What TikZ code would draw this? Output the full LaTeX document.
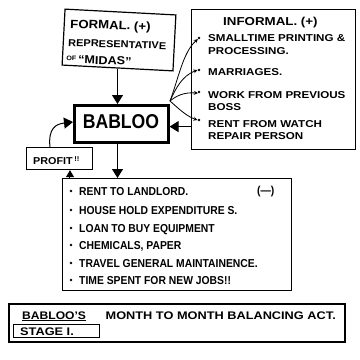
\documentclass[tikz,border=0pt]{standalone}
\usepackage{fontspec}
\setmainfont{Liberation Sans}
% marker-style lettering at a few widths
\newfontfamily\hwInf{Liberation Sans}[FakeStretch=1.16]
\newfontfamily\hwForm{Liberation Sans}[FakeStretch=1.1]
\newfontfamily\hwExp{Liberation Sans}[FakeStretch=0.9]
\newfontfamily\hwCap{Liberation Sans}[FakeStretch=1.16]
\newfontfamily\hwName{Liberation Sans}[FakeStretch=0.88]
\newfontfamily\hwProf{Liberation Sans}[FakeStretch=1.08]
\usetikzlibrary{arrows.meta}
\begin{document}
\begin{tikzpicture}[x=1pt,y=-1pt,
  box/.style={draw,line width=1.2pt,inner sep=0pt,anchor=north west},
  txt/.style={anchor=base west,inner sep=0pt},
  formaltxt/.style={txt,font=\hwForm\fontsize{10}{10}\selectfont\bfseries},
  small/.style={txt,font=\hwInf\fontsize{10}{10}\selectfont\bfseries},
  big/.style={txt,font=\hwExp\fontsize{11.5}{12}\selectfont\bfseries},
  captxt/.style={txt,font=\hwCap\fontsize{11}{11}\selectfont\bfseries},
  flow/.style={line width=1pt,-{Triangle[length=9pt,width=11pt]}},
  thin/.style={line width=0.8pt,-{Stealth[length=4pt,width=4pt]}},
  dot/.style={circle,fill,inner sep=0pt,minimum size=2.8pt}]
\useasboundingbox (0,0) rectangle (360,360);

% formal income
\node[box,rotate=-3,minimum width=111pt,minimum height=56pt,anchor=center] (formal) at (119,40) {};
\node[formaltxt,rotate=-2,font=\hwForm\fontsize{12}{12}\selectfont\bfseries] (f1) at (70,28) {FORMAL. (+)};
\node[formaltxt,rotate=-2] (f2) at (68,46) {REPRESENTATIVE};
\node[formaltxt,rotate=-2,font=\hwForm\fontsize{11.5}{12}\selectfont\bfseries] (f3) at (66,63) {\raisebox{3pt}{\fontsize{6.5}{6.5}\selectfont OF}\,“MIDAS”};

% informal income
\node[box,minimum width=164pt,minimum height=140pt] (informal) at (191,9) {};
\node[small,font=\hwInf\fontsize{11.5}{12}\selectfont\bfseries] (i0) at (223,25) {INFORMAL. (+)};
\node[dot] (b1) at (199,38) {};
\node[small] (i1) at (208,41) {SMALLTIME PRINTING \&};
\node[small] (i1b) at (208,54) {PROCESSING.};
\node[dot] (b2) at (199,70) {};
\node[small] (i2) at (208,75) {MARRIAGES.};
\node[dot] (b3) at (199,92) {};
\node[small] (i3) at (208,98) {WORK FROM PREVIOUS};
\node[small] (i3b) at (208,110) {BOSS};
\node[dot] (b4) at (199,120) {};
\node[small] (i4) at (208,127) {RENT FROM WATCH};
\node[small] (i4b) at (208,139) {REPAIR PERSON};

% central box
\node[box,line width=2.6pt,minimum width=94pt,minimum height=37pt] (babloo) at (73,104) {};
\node[font=\hwName\fontsize{20}{20}\selectfont\bfseries,inner sep=0pt] (name) at (121,122) {BABLOO};

% profit
\node[box,minimum width=66pt,minimum height=22pt] (profit) at (26,147) {};
\node[txt,font=\hwProf\fontsize{10}{10}\selectfont\bfseries] (p1) at (33,164) {PROFIT\,\raisebox{3pt}{\fontsize{7}{7}\selectfont !!}};

% outgoings
\node[box,minimum width=229pt,minimum height=112pt] (expense) at (62,178) {};
\foreach \y/\t [count=\k] in {195/RENT TO LANDLORD.,
    214/HOUSE HOLD EXPENDITURE S.,
    232/LOAN TO BUY EQUIPMENT,
    249/{CHEMICALS, PAPER},
    267/TRAVEL GENERAL MAINTAINENCE.,
    284/TIME SPENT FOR NEW JOBS!!} {
  \node[dot] (ed\k) at (71,\y-4) {};
  \node[big] (e\k) at (79,\y) {\t};
}
\node[big] (minus) at (257,194) {(—)};

% caption
\node[box,line width=1.8pt,minimum width=336pt,minimum height=38pt] (caption) at (8,303) {};
\node[captxt,font=\hwForm\fontsize{11}{11}\selectfont\bfseries] (c1) at (22,319) {\underline{BABLOO’S}};
\node[captxt,anchor=base east] (c2) at (336,319) {MONTH TO MONTH BALANCING ACT.};
\node[box,line width=1pt,minimum width=86pt,minimum height=13pt] (stagebox) at (13,324) {};
\node[captxt] (c3) at (20,335) {STAGE I.};

% connectors
\draw[flow] (formal.south) -- (babloo.north -| formal.south);
\draw[flow] (babloo.south -| formal.south) -- (expense.north -| formal.south);
\coordinate (fan) at (170,101);
\draw[thin] (fan) .. controls (178,80) and (183,52) .. (b1.south west);
\draw[thin] (fan) .. controls (176,88) and (182,76) .. (b2.west);
\draw[thin] (fan) .. controls (176,96) and (184,92) .. (b3.south west);
\draw[thin] (fan) .. controls (178,108) and (186,116) .. (b4.west);
\draw[flow] (informal.west |- b4.south) ++(0,5) coordinate (inc) -- (babloo.east |- inc);
\draw[flow] (profit.north -| p1.west) ++(17,0) coordinate (pup)
   .. controls (48,128) and (56,124) .. (babloo.west |- name);
\draw[line width=1pt,-{Triangle[length=7pt,width=8pt]}] (expense.north -| 70,0) -- (profit.south -| 70,0);
\end{tikzpicture}
\end{document}
